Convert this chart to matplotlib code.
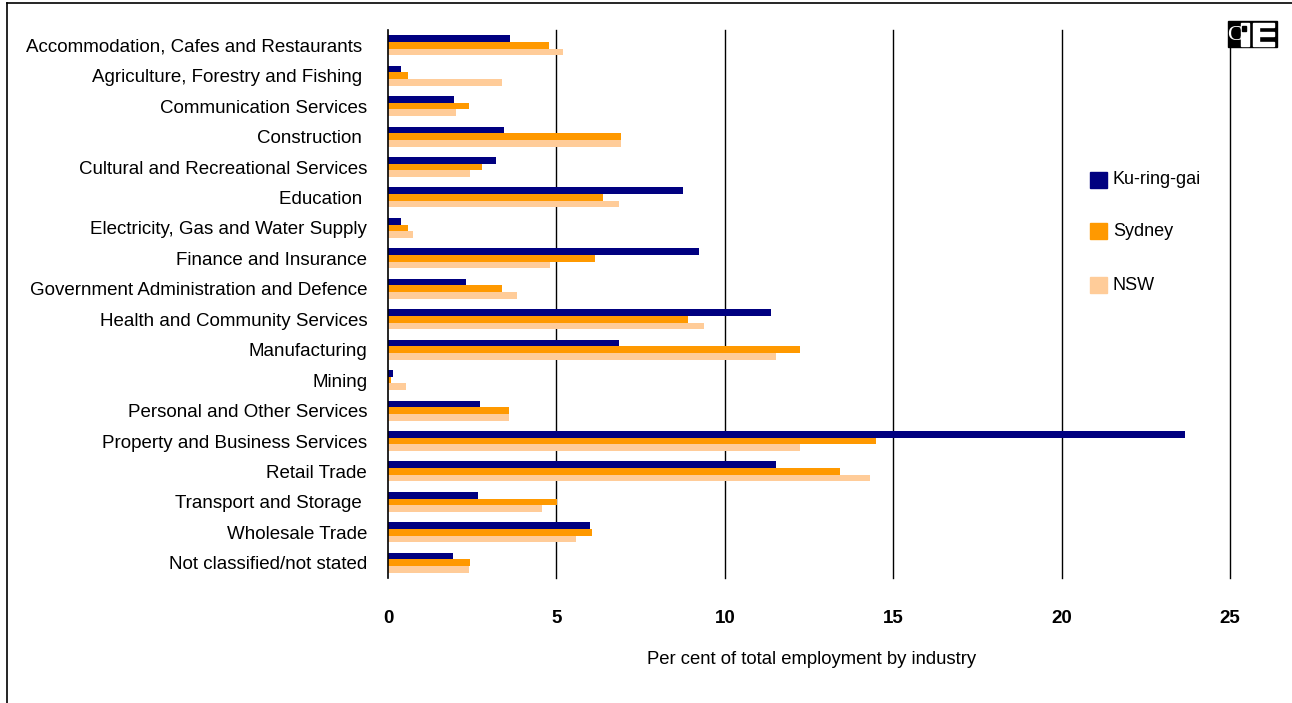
import matplotlib.pyplot as plt
import numpy as np
from matplotlib.patches import Rectangle
from matplotlib.lines import Line2D

# Industrias y porcentaje del empleo total
industrias = [
    'Accommodation, Cafes and Restaurants ',
    'Agriculture, Forestry and Fishing ',
    'Communication Services',
    'Construction ',
    'Cultural and Recreational Services',
    'Education ',
    'Electricity, Gas and Water Supply',
    'Finance and Insurance',
    'Government Administration and Defence',
    'Health and Community Services',
    'Manufacturing',
    'Mining',
    'Personal and Other Services',
    'Property and Business Services',
    'Retail Trade',
    'Transport and Storage ',
    'Wholesale Trade',
    'Not classified/not stated',
]

ku_ring_gai = [3.62, 0.40, 1.95, 3.44, 3.20, 8.76, 0.40, 9.24, 2.31, 11.38,
               6.86, 0.16, 2.72, 23.65, 11.53, 2.66, 6.00, 1.92]
sydney = [4.78, 0.58, 2.40, 6.92, 2.78, 6.38, 0.58, 6.14, 3.38, 8.91,
          12.22, 0.10, 3.59, 14.48, 13.41, 5.01, 6.06, 2.43]
nsw = [5.19, 3.38, 2.01, 6.92, 2.43, 6.86, 0.73, 4.81, 3.82, 9.39,
       11.53, 0.52, 3.59, 12.22, 14.30, 4.57, 5.58, 2.40]

series = ['Ku-ring-gai', 'Sydney', 'NSW']
colores = ['#000080', '#FF9900', '#FFCC99']

plt.rcParams['font.family'] = ['Liberation Sans', 'DejaVu Sans']

fig = plt.figure(figsize=(12.92, 7.03), dpi=100)
ax = fig.add_axes([388 / 1292, 1 - 578 / 703, (1230 - 388) / 1292, (578 - 30) / 703])

y = np.arange(len(industrias))
h = 0.22
for i, (datos, col, nombre) in enumerate(zip([ku_ring_gai, sydney, nsw], colores, series)):
    ax.barh(y + (i - 1) * h, datos, height=h, color=col, label=nombre, zorder=3)

ax.set_xlim(0, 25)
ax.set_ylim(len(industrias) - 0.5, -0.5)
ax.set_xticks([0, 5, 10, 15, 20, 25])
ax.set_xticklabels(['0', '5', '10', '15', '20', '25'], fontsize=13.5, fontweight='bold')
ax.set_yticks(y)
ax.set_yticklabels(industrias, fontsize=13.5)
ax.tick_params(axis='y', length=0, pad=15)
ax.tick_params(axis='x', length=0, pad=23)

# Líneas verticales de la cuadrícula
for v in [5, 10, 15, 20, 25]:
    ax.axvline(v, color='black', lw=1.0, zorder=1, clip_on=False)

for s in ['top', 'right', 'bottom']:
    ax.spines[s].set_visible(False)
ax.spines['left'].set_color('black')
ax.spines['left'].set_linewidth(1.2)
ax.spines['left'].set_zorder(4)

fig.text(812 / 1292, 1 - 660 / 703, 'Per cent of total employment by industry',
         ha='center', va='center', fontsize=13.3)

# Leyenda a mano
for k, (nombre, col) in enumerate(zip(series, colores)):
    yc = [180, 231, 285][k]
    fig.patches.append(Rectangle((1090 / 1292, 1 - (yc + 8) / 703), 17 / 1292, 16 / 703,
                                 transform=fig.transFigure, color=col))
    fig.text(1113 / 1292, 1 - yc / 703, nombre, ha='left', va='center', fontsize=13)

# Logo CIE
fig.patches.append(Rectangle((1228 / 1292, 1 - 47 / 703), 49 / 1292, 26 / 703,
                             transform=fig.transFigure, color='black'))
fig.text(1234.5 / 1292, 1 - 35 / 703, 'C', color='white', fontsize=16,
         family='Liberation Serif', ha='center', va='center')
fig.patches.append(Rectangle((1241 / 1292, 1 - 46 / 703), 8 / 1292, 23 / 703,
                             transform=fig.transFigure, color='white'))
fig.patches.append(Rectangle((1242 / 1292, 1 - 31 / 703), 4 / 1292, 5 / 703,
                             transform=fig.transFigure, color='black'))
fig.patches.append(Rectangle((1253 / 1292, 1 - 46 / 703), 6 / 1292, 23 / 703,
                             transform=fig.transFigure, color='white'))
for yy in [23, 32, 42]:
    fig.patches.append(Rectangle((1259 / 1292, 1 - (yy + 4) / 703), 15 / 1292, 4 / 703,
                                 transform=fig.transFigure, color='white'))

# Marco
fig.lines.append(Line2D([7 / 1292, 1], [1 - 3 / 703, 1 - 3 / 703],
                        transform=fig.transFigure, color='black', lw=1.2))
fig.lines.append(Line2D([7 / 1292, 7 / 1292], [0, 1 - 3 / 703],
                        transform=fig.transFigure, color='black', lw=1.2))

fig.savefig('out.png', dpi=100)
